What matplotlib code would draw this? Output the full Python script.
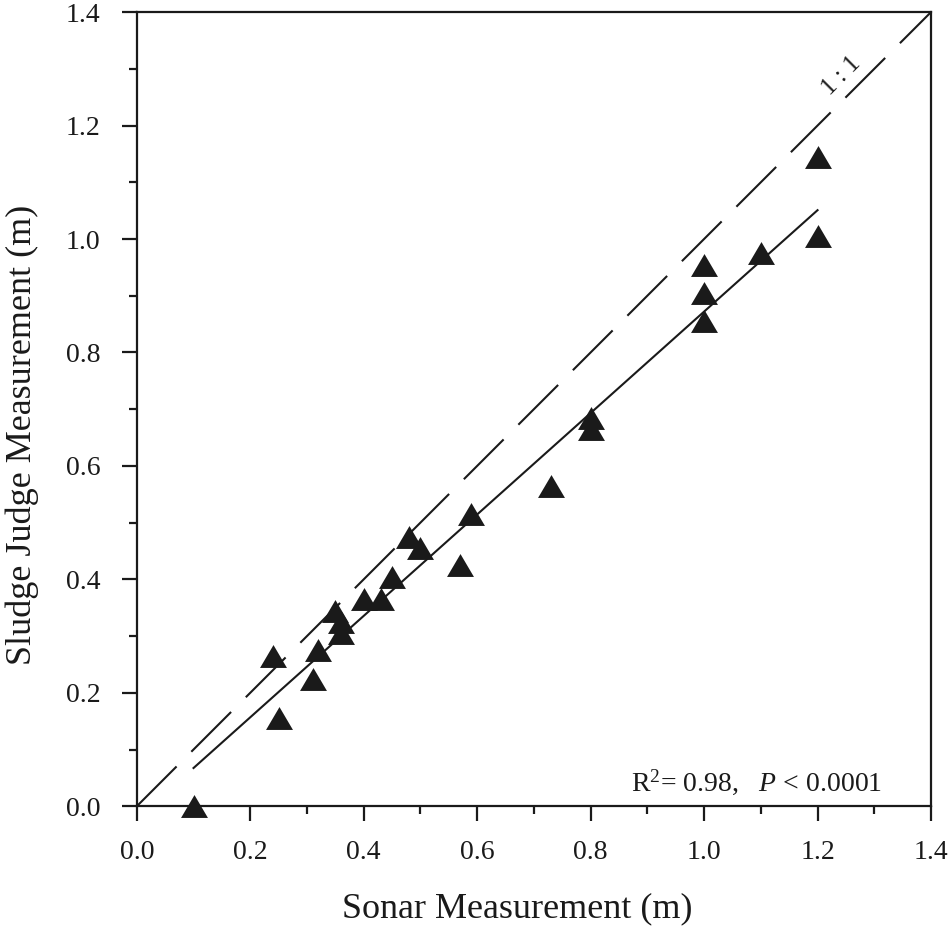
import matplotlib
matplotlib.use("Agg")
import matplotlib.pyplot as plt
import numpy as np
from matplotlib.ticker import MultipleLocator
from matplotlib.path import Path

plt.rcParams['font.family'] = ['Liberation Serif', 'DejaVu Serif']
plt.rcParams['mathtext.fontset'] = 'custom'
plt.rcParams['mathtext.rm'] = 'Liberation Serif'
plt.rcParams['mathtext.it'] = 'Liberation Serif:italic'

sonar = [0.10, 0.24, 0.25, 0.31, 0.32, 0.35, 0.36, 0.36, 0.40, 0.43, 0.45, 0.48,
         0.50, 0.57, 0.59, 0.73, 0.80, 0.80, 1.00, 1.00, 1.00, 1.10, 1.20, 1.20]
sludge = [0.00, 0.265, 0.155, 0.225, 0.275, 0.345, 0.325, 0.305, 0.365, 0.365, 0.405, 0.475,
          0.455, 0.425, 0.515, 0.565, 0.685, 0.665, 0.955, 0.905, 0.855, 0.975, 1.145, 1.005]
fit_slope = 0.894
fit_intercept = -0.022
fit_range = [0.10, 1.20]
ticks = [0.0, 0.2, 0.4, 0.6, 0.8, 1.0, 1.2, 1.4]

# wide, slightly flattened triangle marker (style)
tri = Path([(0, 0.85), (-1, -0.85), (1, -0.85), (0, 0.85)],
           [Path.MOVETO, Path.LINETO, Path.LINETO, Path.CLOSEPOLY])

ink = '#1a1a1a'
fig = plt.figure(figsize=(9.5, 9.31), dpi=100)
ax = fig.add_axes([0.144, 0.134, 0.836, 0.853])

ax.plot([0, 1.4], [0, 1.4], color=ink, lw=1.5, dashes=(27, 10))
xf = np.array(fit_range)
ax.plot(xf, fit_slope * xf + fit_intercept, color=ink, lw=1.5)
ax.scatter(sonar, sludge, marker=tri, s=376, color=ink, zorder=3, linewidths=0,
           clip_on=False)

ax.set_xlim(0, 1.4)
ax.set_ylim(0, 1.4)
ax.set_xticks(ticks)
ax.set_yticks(ticks)
ax.set_xticklabels([f"{t:.1f}" for t in ticks])
ax.set_yticklabels([f"{t:.1f}" for t in ticks])
ax.xaxis.set_minor_locator(MultipleLocator(0.1))
ax.yaxis.set_minor_locator(MultipleLocator(0.1))
ax.tick_params(which='major', direction='out', length=11, width=1.6, labelsize=20,
               colors=ink)
ax.tick_params(which='minor', direction='out', length=6, width=1.6, colors=ink)
ax.tick_params(axis='x', which='major', pad=13)
ax.tick_params(axis='y', which='major', pad=15)
ax.tick_params(top=False, right=False, which='both')
for s in ax.spines.values():
    s.set_linewidth(1.6)
    s.set_color(ink)

ax.set_xlabel('Sonar Measurement (m)', fontsize=26, color=ink)
ax.set_ylabel('Sludge Judge Measurement (m)', fontsize=26, color=ink)
ax.xaxis.set_label_coords(0.479, -0.108)
ax.yaxis.set_label_coords(-0.123, 0.468)

ax.text(1.242, 1.287, '1 : 1', rotation=45, fontsize=18, color=ink,
        ha='center', va='center')
ax.text(1.314, 0.042, r'R$^{2}$= 0.98,   $\it{P}$ < 0.0001', fontsize=20,
        color=ink, ha='right', va='center')

fig.savefig('out.png', dpi=100)
